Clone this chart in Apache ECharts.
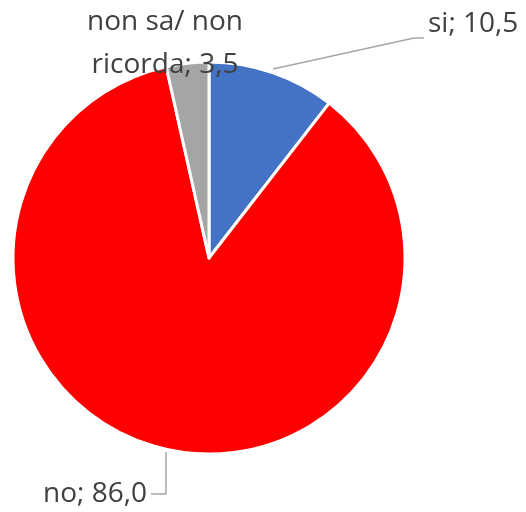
<!DOCTYPE html>
<html>
<head>
<meta charset="utf-8">
<script src="https://cdn.jsdelivr.net/npm/echarts@6/dist/echarts.min.js"></script>
<style>
  html, body { margin: 0; padding: 0; background: #fff; }
  #chart { width: 526px; height: 512px; }
</style>
</head>
<body>
<div id="chart"></div>
<script>
// Risposte (%)
const categories = ['si', 'no', 'non sa/ non ricorda'];
const values = [10.5, 86.0, 3.5];
const colors = ['#4472C4', '#FF0000', '#A5A5A5'];

const fmt = v => v.toFixed(1).replace('.', ',');

const chart = echarts.init(document.getElementById('chart'));

const data = categories.map((name, i) => ({
  name: name,
  value: values[i],
  itemStyle: { color: colors[i] }
}));

// label placement for each slice (anchor, alignment, leader line)
const labelPlacement = [
  { x: 428, y: 24, align: 'left', line: [[273, 69], [414, 38], [424, 38]] },
  { x: 147, y: 494, align: 'right', line: [[166, 452], [166, 494], [151, 494]] },
  { x: 165, y: 44, align: 'center', line: null }
];

chart.setOption({
  animation: false,
  series: [{
    type: 'pie',
    center: [209, 258],
    radius: 196,
    startAngle: 90,
    clockwise: true,
    data: data,
    itemStyle: { borderColor: '#fff', borderWidth: 3 },
    label: {
      show: true,
      color: '#404040',
      fontFamily: 'Open Sans',
      fontSize: 28,
      lineHeight: 43,
      overflow: 'none',
      width: 300,
      formatter: p => {
        const name = p.dataIndex === 2 ? 'non sa/ non\nricorda' : p.name;
        return name + '; ' + fmt(p.value);
      }
    },
    labelLine: {
      show: true,
      lineStyle: { color: '#A6A6A6', width: 1.5 }
    },
    labelLayout: function (params) {
      const p = labelPlacement[params.dataIndex];
      const out = {
        x: p.x,
        y: p.y,
        align: p.align,
        verticalAlign: 'middle'
      };
      if (p.line) out.labelLinePoints = p.line;
      return out;
    }
  }]
});
</script>
</body>
</html>
